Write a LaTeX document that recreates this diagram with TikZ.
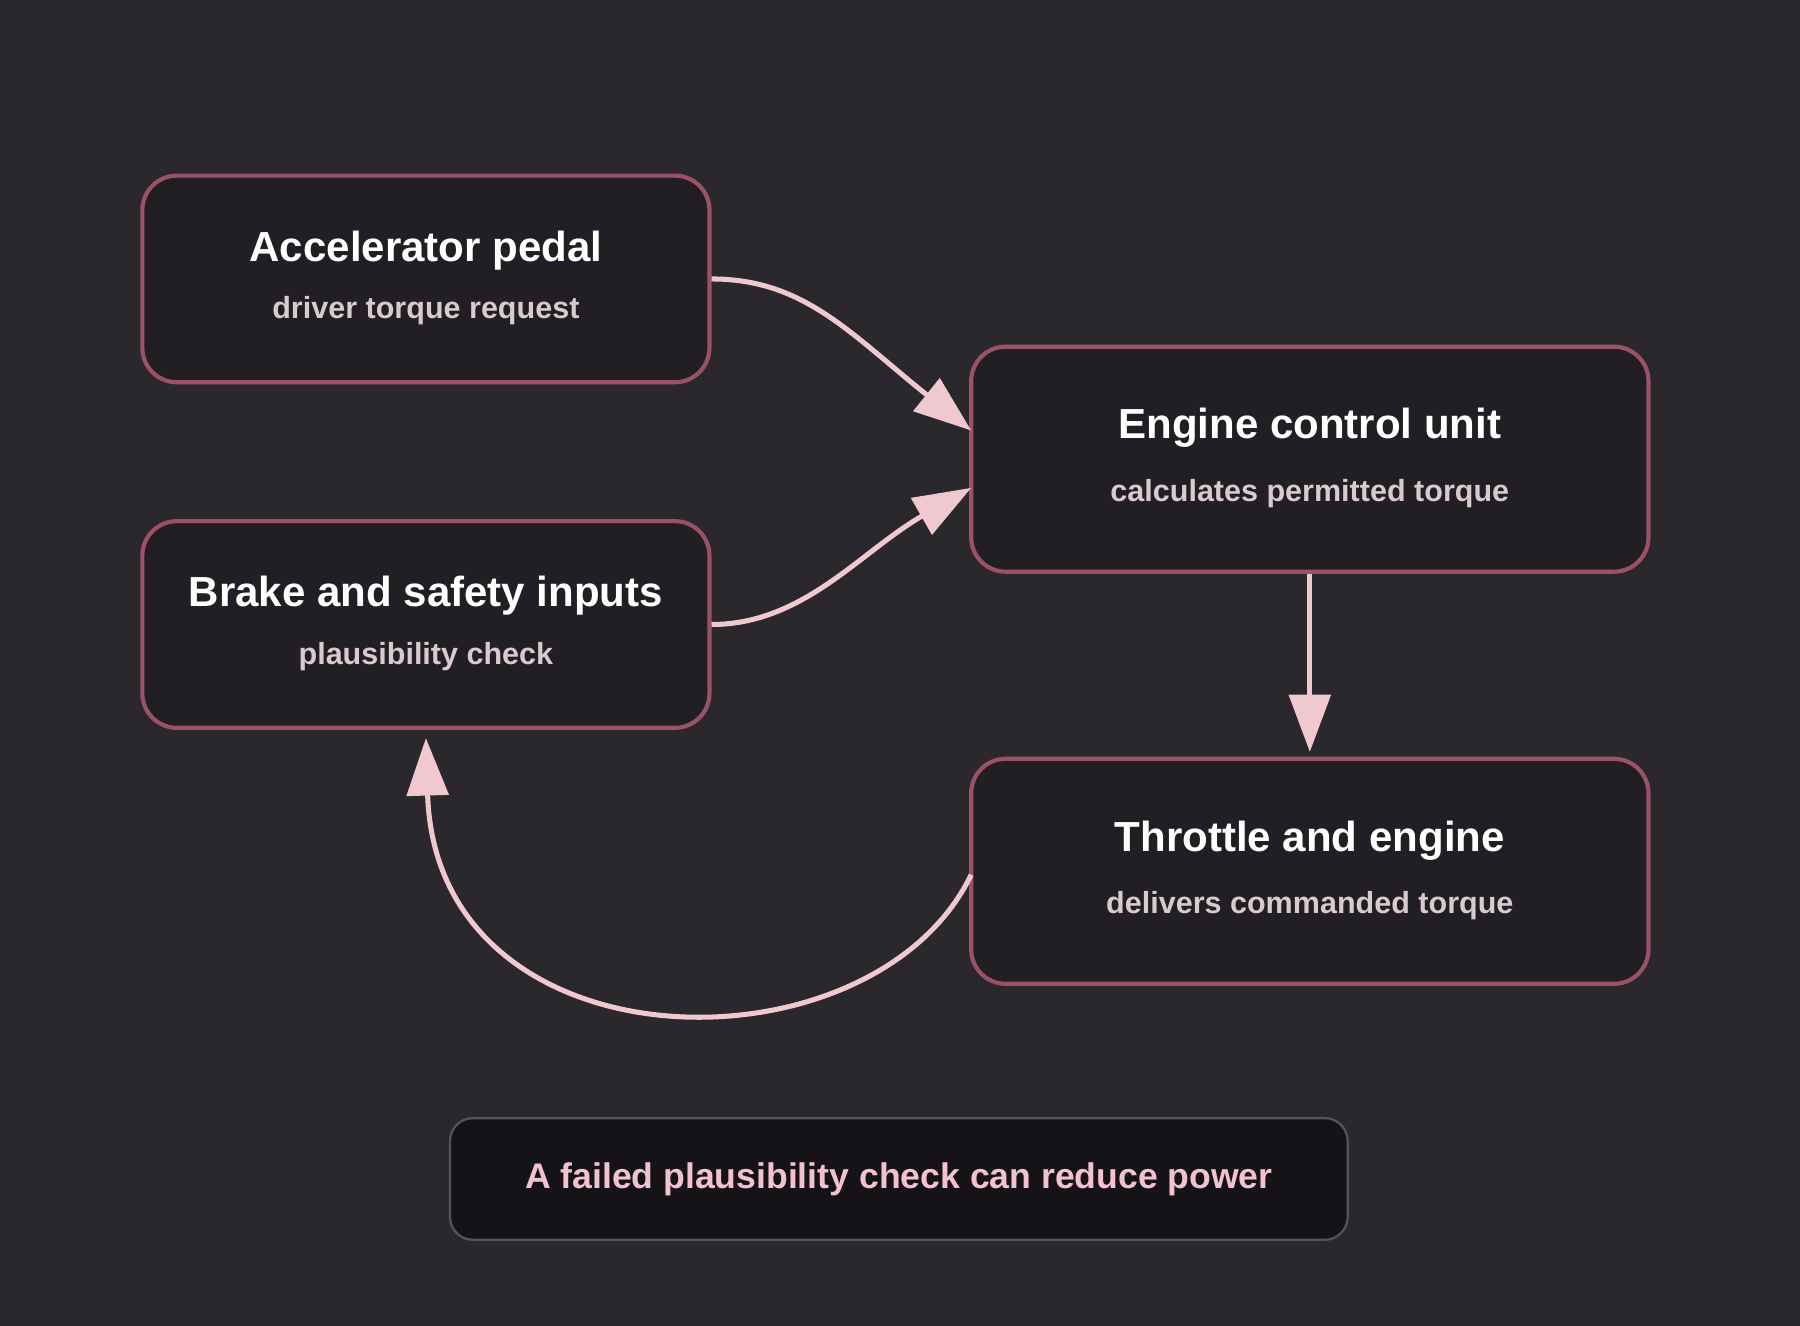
\documentclass[tikz,border=0pt]{standalone}
\usepackage{fontspec}
\setmainfont{Liberation Sans}
\usetikzlibrary{arrows.meta}
\definecolor{bg}{HTML}{2A282D}
\definecolor{boxfill}{HTML}{211F23}
\definecolor{boxline}{HTML}{9A5366}
\definecolor{arrowc}{HTML}{F0C8D0}
\definecolor{subc}{HTML}{D8CACE}
\definecolor{notefill}{HTML}{151317}
\definecolor{noteline}{HTML}{55535A}
\definecolor{notetext}{HTML}{F2C2CE}
\tikzset{
  stage/.style={draw=boxline, fill=boxfill, line width=1.8pt, rounded corners=15pt, minimum width=247pt, minimum height=90pt, inner sep=0pt},
  stage2/.style={stage, minimum width=295pt, minimum height=98pt},
  ttl/.style={text=white, font=\bfseries\fontsize{18.3}{21}\selectfont},
  sub/.style={text=subc, font=\bfseries\fontsize{13.3}{15}\selectfont},
  flow/.style={draw=arrowc, line width=2.2pt, -{Triangle[length=25pt,width=18pt]}},
  note/.style={draw=noteline, fill=notefill, line width=1pt, rounded corners=10pt, minimum width=391pt, minimum height=53pt, text=notetext, font=\bfseries\fontsize{15.5}{18}\selectfont}
}
\begin{document}
\begin{tikzpicture}[x=0.5pt,y=-0.5pt]
\fill[bg] (0,0) rectangle (1568,1155);
\useasboundingbox (0,0) rectangle (1568,1155);
\node[stage] (acc) at (371,243) {};
\node[stage] (brk) at (371,544) {};
\node[stage2] (ecu) at (1141,400) {};
\node[stage2] (thr) at (1141,759) {};
\node[ttl] (acct) at ([yshift=12.5pt]acc.center) {Accelerator pedal};
\node[sub] (accs) at ([yshift=-14pt]acc.center) {driver torque request};
\node[ttl] (brkt) at ([yshift=12.5pt]brk.center) {Brake and safety inputs};
\node[sub] (brks) at ([yshift=-14pt]brk.center) {plausibility check};
\node[ttl] (ecut) at ([yshift=13.5pt]ecu.center) {Engine control unit};
\node[sub] (ecus) at ([yshift=-15pt]ecu.center) {calculates permitted torque};
\node[ttl] (thrt) at ([yshift=13.5pt]thr.center) {Throttle and engine};
\node[sub] (thrs) at ([yshift=-15pt]thr.center) {delivers commanded torque};
\node[note] (nt) at (783,1027) {A failed plausibility check can reduce power};
\coordinate (e1) at (846,375);
\coordinate (e2) at (846,425);
\coordinate (e3) at (1141,655);
\coordinate (e4) at (371,643);
\coordinate (s4) at (846,762);
\draw[flow] (acc.east) .. controls (700,243) and (740,290) .. (e1);
\draw[flow] (brk.east) .. controls (700,544) and (750,480) .. (e2);
\draw[flow] (ecu.south) -- (e3);
\draw[flow] (s4) .. controls (760,940) and (380,935) .. (e4);
\end{tikzpicture}
\end{document}
